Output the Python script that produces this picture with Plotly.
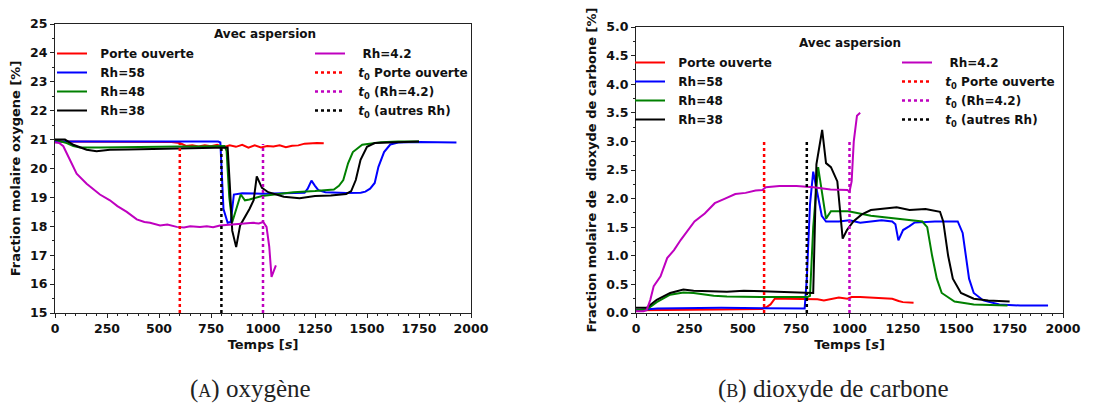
import plotly.graph_objects as go

# ---------------- Data: oxygen (A) ----------------
o2_po_t = [0, 100, 200, 300, 400, 500, 560, 600, 630, 660, 690, 720, 750, 780, 810, 840, 870, 900, 930, 960, 990, 1020, 1050, 1080, 1110, 1140, 1170, 1200, 1230, 1260, 1292]
o2_po_v = [20.93, 20.93, 20.93, 20.93, 20.93, 20.92, 20.92, 20.88, 20.78, 20.8, 20.76, 20.8, 20.77, 20.82, 20.74, 20.8, 20.75, 20.82, 20.72, 20.8, 20.73, 20.78, 20.76, 20.8, 20.74, 20.79, 20.8, 20.86, 20.88, 20.88, 20.87]

o2_rh58_t = [0, 200, 400, 600, 785, 795, 810, 830, 845, 860, 900, 1000, 1100, 1200, 1215, 1233, 1250, 1266, 1300, 1400, 1470, 1492, 1515, 1537, 1555, 1582, 1612, 1650, 1750, 1850, 1930]
o2_rh58_v = [20.93, 20.93, 20.93, 20.93, 20.93, 20.9, 18.6, 18.12, 18.15, 19.1, 19.14, 19.13, 19.14, 19.16, 19.3, 19.58, 19.4, 19.25, 19.18, 19.15, 19.16, 19.2, 19.3, 19.5, 20.06, 20.57, 20.83, 20.9, 20.92, 20.91, 20.9]

o2_rh48_t = [0, 30, 56, 88, 120, 216, 377, 500, 600, 697, 815, 825, 838, 852, 870, 893, 913, 935, 995, 1050, 1146, 1250, 1296, 1341, 1365, 1386, 1409, 1432, 1477, 1567, 1650, 1750]
o2_rh48_v = [21.0, 20.95, 20.88, 20.78, 20.73, 20.73, 20.75, 20.74, 20.76, 20.76, 20.78, 20.6, 19.0, 18.14, 18.6, 19.1, 18.9, 18.93, 19.05, 19.1, 19.18, 19.22, 19.25, 19.27, 19.4, 19.6, 20.18, 20.57, 20.82, 20.91, 20.93, 20.93]

o2_rh38_t = [0, 48, 88, 152, 200, 264, 350, 457, 550, 697, 793, 830, 840, 852, 871, 890, 935, 955, 970, 995, 1025, 1060, 1100, 1176, 1250, 1326, 1400, 1424, 1446, 1469, 1500, 1537, 1650, 1750]
o2_rh38_v = [21.0, 21.0, 20.82, 20.65, 20.6, 20.65, 20.66, 20.68, 20.69, 20.7, 20.73, 20.73, 19.5, 17.85, 17.28, 18.03, 18.6, 18.9, 19.73, 19.33, 19.18, 19.1, 19.02, 18.97, 19.05, 19.07, 19.12, 19.22, 19.6, 20.3, 20.75, 20.88, 20.92, 20.93]

o2_rh42_t = [0, 20, 40, 72, 104, 152, 216, 264, 300, 345, 393, 430, 457, 505, 540, 585, 620, 650, 697, 730, 760, 793, 857, 900, 953, 980, 1001, 1017, 1030, 1041, 1050, 1062]
o2_rh42_v = [20.9, 20.88, 20.77, 20.3, 19.82, 19.47, 19.1, 18.9, 18.7, 18.5, 18.24, 18.15, 18.12, 18.03, 18.06, 17.98, 17.96, 18.0, 17.98, 18.0, 17.97, 18.03, 18.07, 18.1, 18.12, 18.1, 18.15, 17.98, 17.3, 16.25, 16.45, 16.65]

# ---------------- Data: carbon dioxide (B) ----------------
co2_po_t = [0, 200, 400, 590, 610, 630, 650, 700, 750, 800, 850, 880, 920, 950, 990, 1010, 1050, 1100, 1150, 1200, 1230, 1250, 1300]
co2_po_v = [0.05, 0.05, 0.06, 0.07, 0.1, 0.15, 0.25, 0.25, 0.25, 0.24, 0.24, 0.22, 0.25, 0.27, 0.25, 0.28, 0.28, 0.27, 0.27, 0.25, 0.21, 0.19, 0.18]

co2_rh58_t = [0, 100, 400, 700, 790, 800, 815, 830, 845, 870, 890, 950, 1000, 1050, 1100, 1150, 1200, 1215, 1229, 1251, 1281, 1304, 1400, 1507, 1530, 1545, 1560, 1582, 1627, 1702, 1800, 1930]
co2_rh58_v = [0.05, 0.08, 0.09, 0.09, 0.08, 0.6, 1.9, 2.47, 2.2, 1.7, 1.6, 1.6, 1.62, 1.58, 1.6, 1.62, 1.6, 1.55, 1.27, 1.45, 1.52, 1.58, 1.6, 1.6, 1.4, 1.0, 0.6, 0.35, 0.22, 0.15, 0.13, 0.13]

co2_rh48_t = [0, 50, 97, 160, 222, 270, 364, 426, 583, 803, 815, 830, 853, 875, 890, 913, 995, 1100, 1221, 1300, 1341, 1364, 1387, 1409, 1432, 1492, 1582, 1740]
co2_rh48_v = [0.05, 0.06, 0.19, 0.32, 0.36, 0.35, 0.3, 0.29, 0.28, 0.28, 0.3, 1.5, 2.55, 2.0, 1.65, 1.78, 1.78, 1.7, 1.65, 1.62, 1.6, 1.5, 1.0, 0.6, 0.35, 0.2, 0.15, 0.13]

co2_rh38_t = [0, 50, 97, 160, 222, 270, 348, 426, 505, 583, 740, 830, 845, 872, 890, 913, 943, 968, 988, 1018, 1056, 1100, 1221, 1281, 1356, 1424, 1439, 1462, 1484, 1522, 1582, 1650, 1750]
co2_rh38_v = [0.09, 0.09, 0.23, 0.35, 0.41, 0.39, 0.38, 0.37, 0.39, 0.38, 0.36, 0.35, 2.6, 3.2, 2.62, 2.55, 2.3, 1.3, 1.45, 1.6, 1.72, 1.8, 1.85, 1.8, 1.82, 1.77, 1.6, 1.0, 0.6, 0.35, 0.25, 0.22, 0.2]

co2_rh42_t = [0, 35, 50, 67, 83, 115, 146, 178, 210, 242, 274, 322, 369, 417, 465, 513, 560, 592, 608, 672, 752, 831, 911, 990, 1000, 1010, 1020, 1035, 1050]
co2_rh42_v = [0.03, 0.03, 0.05, 0.23, 0.47, 0.64, 0.96, 1.1, 1.28, 1.45, 1.6, 1.74, 1.92, 2.0, 2.08, 2.1, 2.14, 2.15, 2.2, 2.22, 2.22, 2.2, 2.16, 2.15, 2.12, 2.3, 3.0, 3.45, 3.5]

# vertical t0 markers: time and top value
t0_times = [600, 1000, 800]
t0_top_o2 = [20.88, 20.85, 20.72]
t0_top_co2 = [3.0, 3.0, 3.0]

names_main = ["Porte ouverte", "Rh=58", "Rh=48", "Rh=38"]
name_rh42 = " Rh=4.2"
names_t0 = ["<i>t</i><sub>0</sub> Porte ouverte", "<i>t</i><sub>0</sub> (Rh=4.2)", "<i>t</i><sub>0</sub> (autres Rh)"]
colors_main = ["#ff0000", "#0000ff", "#008000", "#000000"]
color_rh42 = "#bf00bf"
colors_t0 = ["#ff0000", "#bf00bf", "#000000"]

x_ticks = [0, 250, 500, 750, 1000, 1250, 1500, 1750, 2000]

FONT = "DejaVu Sans"
PAD = "\u00a0\u00a0"
fig = go.Figure()

def add_panel(xa, ya, leg_a, leg_b, main_t, main_v, rh42_t, rh42_v, t0_tops, y0):
    for t, v, n, c in zip(main_t, main_v, names_main, colors_main):
        fig.add_trace(go.Scatter(x=t, y=v, mode="lines", name=PAD + n, line=dict(color=c, width=2),
                                 xaxis=xa, yaxis=ya, legend=leg_a))
    fig.add_trace(go.Scatter(x=rh42_t, y=rh42_v, mode="lines", name=PAD + name_rh42,
                             line=dict(color=color_rh42, width=2), xaxis=xa, yaxis=ya, legend=leg_b))
    for tt, top, n, c in zip(t0_times, t0_tops, names_t0, colors_t0):
        fig.add_trace(go.Scatter(x=[tt, tt], y=[y0, top], mode="lines", name=PAD + n,
                                 line=dict(color=c, width=2.5, dash="dot"), xaxis=xa, yaxis=ya, legend=leg_b))

add_panel("x", "y", "legend", "legend2",
          [o2_po_t, o2_rh58_t, o2_rh48_t, o2_rh38_t], [o2_po_v, o2_rh58_v, o2_rh48_v, o2_rh38_v],
          o2_rh42_t, o2_rh42_v, t0_top_o2, 15)
add_panel("x2", "y2", "legend3", "legend4",
          [co2_po_t, co2_rh58_t, co2_rh48_t, co2_rh38_t], [co2_po_v, co2_rh58_v, co2_rh48_v, co2_rh38_v],
          co2_rh42_t, co2_rh42_v, t0_top_co2, 0)

W, H = 1099, 403
def px(x): return x / W
def py(y): return 1 - y / H

tickfont = dict(family=FONT, size=12.5, color="#111", weight="bold")
titlefont = dict(family=FONT, size=13, color="#111", weight="bold")

def xaxis(domain, anchor):
    return dict(domain=domain, anchor=anchor, range=[0, 2000], tickvals=x_ticks,
                ticks="outside", ticklen=4, tickwidth=1, tickcolor="#222", automargin=False,
                minor=dict(dtick=50, ticks="outside", ticklen=2, tickcolor="#222"),
                showline=True, linecolor="#222", linewidth=1, mirror=True, showgrid=False,
                zeroline=False, tickfont=tickfont,
                title=dict(text="Temps [<i>s</i>]", font=titlefont, standoff=4))

def yaxis(domain, anchor, rng, dtick, minor, title, fmt):
    return dict(domain=domain, anchor=anchor, range=rng, dtick=dtick, tick0=rng[0],
                ticks="outside", ticklen=4, tickwidth=1, tickcolor="#222", tickformat=fmt,
                automargin=False,
                minor=dict(dtick=minor, ticks="outside", ticklen=2, tickcolor="#222"),
                showline=True, linecolor="#222", linewidth=1, mirror=True, showgrid=False,
                zeroline=False, tickfont=tickfont,
                title=dict(text=title, font=titlefont, standoff=6))

legfont = dict(family=FONT, size=12, color="#111", weight="bold")
def leg(x, y):
    return dict(x=px(x), y=py(y), xanchor="left", yanchor="top", bgcolor="rgba(0,0,0,0)",
                font=legfont, borderwidth=0, itemwidth=30, tracegroupgap=0)

def ann(text, x, y, font):
    return dict(text=text, x=px(x), y=py(y), xref="paper", yref="paper", showarrow=False,
                xanchor="center", yanchor="middle", font=font)

capfont = dict(family="Liberation Serif", size=25, color="#222")

fig.update_layout(
    width=W, height=H, margin=dict(l=0, r=0, t=0, b=0, autoexpand=False),
    paper_bgcolor="white", plot_bgcolor="white", showlegend=True,
    xaxis=xaxis([px(55), px(471)], "y"),
    yaxis=yaxis([py(313), py(24)], "x", [15, 25], 1, 0.5, "Fraction molaire oxygene [%]", ".0f"),
    xaxis2=xaxis([px(636), px(1063)], "y2"),
    yaxis2=yaxis([py(313), py(27)], "x2", [0, 5], 0.5, 0.25,
                 "Fraction molaire de  dioxyde de carbone [%]", ".1f"),
    legend=leg(52, 39),
    legend2=leg(310, 39),
    legend3=leg(630, 48),
    legend4=leg(897, 48),
    annotations=[
        ann("Avec aspersion", 265, 34, legfont),
        ann("Avec aspersion", 850, 43, legfont),
        ann("(<span style='font-size:18px'>A</span>) oxygène", 250, 389, capfont),
        ann("(<span style='font-size:18px'>B</span>) dioxyde de carbone", 833, 389, capfont),
    ],
)

fig.write_html("out.html", post_script="document.body.style.margin='0';",
               config={"displayModeBar": False})
